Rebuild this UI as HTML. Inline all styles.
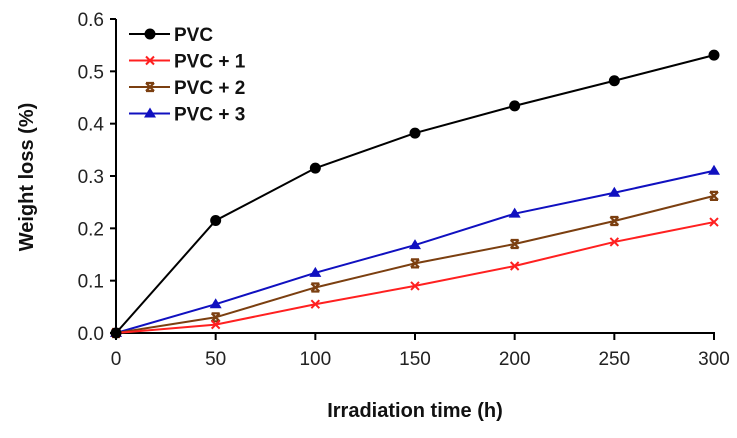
<!DOCTYPE html>
<html><head><meta charset="utf-8"><style>
html,body{margin:0;padding:0;background:#fff;}
svg{display:block;font-family:"Liberation Sans",Arial,sans-serif;}
</style></head><body>
<svg id="chart" width="737" height="438"></svg>
<script>
const xValues=[0,50,100,150,200,250,300];
const pvc=[0,0.215,0.315,0.382,0.434,0.482,0.531];
const pvc1=[0,0.016,0.055,0.090,0.128,0.174,0.212];
const pvc2=[0,0.030,0.087,0.133,0.170,0.214,0.262];
const pvc3=[0,0.055,0.115,0.168,0.228,0.268,0.310];
const xTicks=[0,50,100,150,200,250,300];
const yTicks=["0.0","0.1","0.2","0.3","0.4","0.5","0.6"];
const seriesNames=["PVC","PVC + 1","PVC + 2","PVC + 3"];
const NS="http://www.w3.org/2000/svg";
const svg=document.getElementById('chart');
const X0=116,X1=714,Y0=333,Y1=19;
const xs=v=>X0+(v/300)*(X1-X0);
const ys=v=>Y0-(v/0.6)*(Y0-Y1);
function mk(t,a,p){const e=document.createElementNS(NS,t);for(const k in a)e.setAttribute(k,a[k]);(p||svg).appendChild(e);return e;}
// axes
let e=mk('line',{x1:X0,y1:Y1,x2:X0,y2:Y0,stroke:'#000','stroke-width':2});


e=mk('line',{x1:X0,y1:Y0,x2:X1+1,y2:Y0,stroke:'#000','stroke-width':2});


yTicks.forEach(t=>{const y=ys(parseFloat(t));
 mk('line',{x1:X0-6,y1:y,x2:X0,y2:y,stroke:'#000','stroke-width':2});
 e=mk('text',{x:X0-12,y:y+7,'text-anchor':'end','font-size':19,fill:'#222'});e.textContent=t;
 
 });
xTicks.forEach(t=>{const x=xs(t);
 mk('line',{x1:x,y1:Y0,x2:x,y2:Y0+7,stroke:'#000','stroke-width':2});
 e=mk('text',{x:x,y:Y0+32,'text-anchor':'middle','font-size':19,fill:'#222'});e.textContent=t;
 
 });
e=mk('text',{x:415,y:417,'text-anchor':'middle','font-size':20,'font-weight':'bold',fill:'#111'});e.textContent='Irradiation time (h)';


e=mk('text',{x:0,y:0,'text-anchor':'middle','font-size':20,'font-weight':'bold',fill:'#111',transform:'translate(33,177) rotate(-90)'});e.textContent='Weight loss (%)';


function marker(type,x,y,c,g){
 if(type==='circle')mk('circle',{cx:x,cy:y,r:5.5,fill:c},g);
 else if(type==='x'){mk('path',{d:`M${x-4},${y-4}L${x+4},${y+4}M${x-4},${y+4}L${x+4},${y-4}`,stroke:c,'stroke-width':2},g);}
 else if(type==='star'){mk('path',{d:`M${x-4},${y-4}L${x+4},${y+4}M${x-4},${y+4}L${x+4},${y-4}M${x-4},${y-4}H${x+4}M${x-4},${y+4}H${x+4}`,stroke:c,'stroke-width':2.2},g);}
 else mk('path',{d:`M${x},${y-6}L${x+6},${y+4}L${x-6},${y+4}Z`,fill:c},g);
}
const all=[[pvc,'#000','circle','series-pvc'],[pvc1,'#ff2020','x','series-pvc-1'],[pvc2,'#7b3f10','star','series-pvc-2'],[pvc3,'#1010c0','tri','series-pvc-3']];
[3,2,1,0].forEach(i=>{const [d,c,m,n]=all[i];
 const g=mk('g',{});
 
 
 mk('polyline',{points:d.map((v,j)=>xs(xValues[j])+','+ys(v)).join(' '),fill:'none',stroke:c,'stroke-width':2},g);
 d.forEach((v,j)=>marker(m,xs(xValues[j]),ys(v),c,g));
});
all.forEach(([d,c,m,n],i)=>{const y=34+i*26.5;
 const g=mk('g',{});
 
 
 mk('line',{x1:129,y1:y,x2:170,y2:y,stroke:c,'stroke-width':2},g);
 marker(m,150,y,c,g);
 const t=mk('text',{x:174,y:y+7,'font-size':19,'font-weight':'bold',fill:'#111'},g);t.textContent=seriesNames[i];
});
</script>
</body></html>
